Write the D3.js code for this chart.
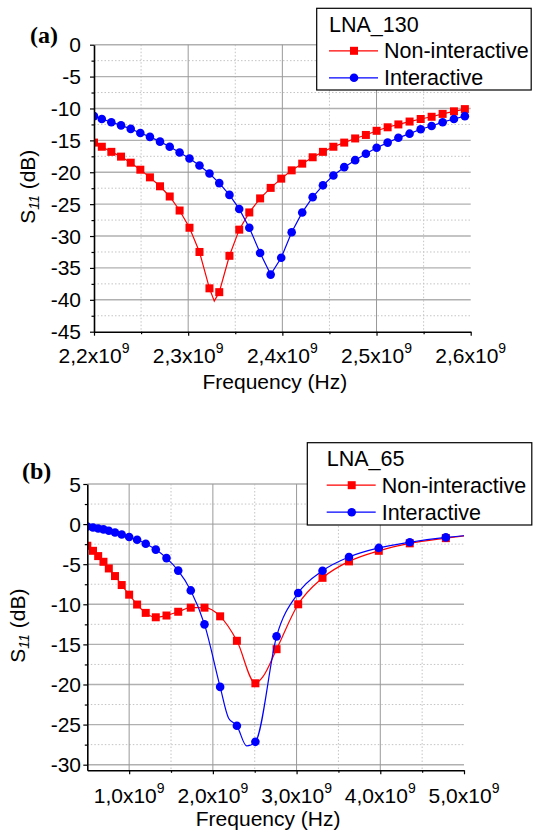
<!DOCTYPE html>
<html>
<head>
<meta charset="utf-8">
<script src="https://cdn.jsdelivr.net/npm/d3@7"></script>
<style>
  body { margin: 0; background: #fff; }
  svg { display: block; }
  text { font-family: Arial, "Liberation Sans", sans-serif; fill: #000; }
</style>
</head>
<body>
<svg id="chart" width="533" height="832"></svg>
<script>
// ---- datos ----
// (a) LNA_130, frecuencia en GHz (x10^9 Hz)
const topFreqGHz = [2.2000, 2.2083, 2.2184, 2.2287, 2.2390, 2.2492, 2.2594, 2.2701, 2.2804, 2.2909,
  2.3014, 2.3120, 2.3226, 2.3330, 2.3438, 2.3542, 2.3649, 2.3764, 2.3876, 2.3988,
  2.4099, 2.4211, 2.4322, 2.4431, 2.4542, 2.4657, 2.4773, 2.4887, 2.5001, 2.5118,
  2.5232, 2.5351, 2.5469, 2.5585, 2.5702, 2.5822, 2.5938];
const topRedDb = [-15.35, -16.0, -16.8, -17.55, -18.5, -19.6, -20.8, -22.2, -23.8, -26.0,
  -28.7, -32.5, -38.2, -38.8, -33.1, -29.0, -26.3, -24.1, -22.45, -21.0,
  -19.7, -18.65, -17.65, -16.8, -16.0, -15.35, -14.7, -14.15, -13.5, -12.95,
  -12.5, -12.05, -11.65, -11.3, -10.85, -10.45, -10.1];
const topBlueDb = [-11.2, -11.65, -12.15, -12.65, -13.2, -13.85, -14.45, -15.2, -16.0, -16.9,
  -17.85, -18.95, -20.2, -21.7, -23.55, -25.75, -28.7, -32.65, -36.05, -33.4,
  -29.4, -26.3, -23.9, -22.05, -20.5, -19.2, -18.1, -17.1, -16.15, -15.35,
  -14.6, -13.95, -13.25, -12.75, -12.15, -11.65, -11.2];
// puntos de la curva sin marcador
const topRedLineFreq = [2.3277];
const topRedLineDb = [-40.2];
const topBlueLineFreq = [];
const topBlueLineDb = [];

// (b) LNA_65
const botFreqGHz = [0.500, 0.568, 0.630, 0.693, 0.757, 0.831, 0.911, 1.000, 1.095, 1.198,
  1.318, 1.446, 1.586, 1.736, 1.900, 2.087, 2.287, 2.508, 2.761, 3.019,
  3.310, 3.626, 3.982, 4.352, 4.783];
const botRedDb = [-2.7, -3.33, -3.99, -4.7, -5.53, -6.48, -7.6, -8.8, -10.03, -11.07,
  -11.62, -11.4, -10.93, -10.42, -10.42, -11.5, -14.55, -19.85, -15.6, -10.0,
  -6.7, -4.65, -3.33, -2.4, -1.75];
const botBlueDb = [-0.3, -0.42, -0.54, -0.66, -0.83, -1.04, -1.3, -1.6, -1.95, -2.45,
  -3.18, -4.24, -5.8, -8.27, -12.5, -20.3, -25.15, -27.15, -14.0, -8.6,
  -5.82, -4.1, -2.97, -2.26, -1.66];
const botRedLineFreq = [2.60, 5.0];
const botRedLineDb = [-19.0, -1.47];
const botBlueLineFreq = [2.188, 2.403, 5.0];
const botBlueLineDb = [-24.2, -27.65, -1.45];

// ticks
const topXMajor = [2.2, 2.3, 2.4, 2.5, 2.6];
const topXMinor = [2.25, 2.35, 2.45, 2.55];
const topYMajor = [0, -5, -10, -15, -20, -25, -30, -35, -40, -45];
const topYMinor = [-2.5, -7.5, -12.5, -17.5, -22.5, -27.5, -32.5, -37.5, -42.5];
const botXMajor = [1, 2, 3, 4, 5];
const botXMinor = [1.5, 2.5, 3.5, 4.5];
const botYMajor = [5, 0, -5, -10, -15, -20, -25, -30];
const botYMinor = [2.5, -2.5, -7.5, -12.5, -17.5, -22.5, -27.5];

const RED = "#ff0000", BLUE = "#0000ff";
const svg = d3.select("#chart");

function pairs(xs, ys) { return xs.map((v, i) => [v, ys[i]]); }

function drawPanel(p) {
  const g = svg.append("g");
  const x = d3.scaleLinear().domain(p.xDomain).range([p.left, p.right]);
  const y = d3.scaleLinear().domain(p.yDomain).range([p.bottom, p.top]);

  // rejilla menor (punteada)
  g.append("g").selectAll("line").data(p.yMinor).join("line")
    .attr("x1", p.left).attr("x2", p.right)
    .attr("y1", d => y(d)).attr("y2", d => y(d))
    .attr("stroke", "#c4c4c4").attr("stroke-width", 1).attr("stroke-dasharray", "1.5,2");
  g.append("g").selectAll("line").data(p.xMinor).join("line")
    .attr("x1", d => x(d)).attr("x2", d => x(d))
    .attr("y1", p.top).attr("y2", p.bottom)
    .attr("stroke", "#c4c4c4").attr("stroke-width", 1).attr("stroke-dasharray", "1.5,2");

  // rejilla mayor
  g.append("g").selectAll("line").data(p.yGrid).join("line")
    .attr("x1", p.left).attr("x2", p.right)
    .attr("y1", d => y(d)).attr("y2", d => y(d))
    .attr("stroke", "#b0b0b0").attr("stroke-width", 1.4);
  g.append("g").selectAll("line").data(p.xGrid).join("line")
    .attr("x1", d => x(d)).attr("x2", d => x(d))
    .attr("y1", p.top).attr("y2", p.bottom)
    .attr("stroke", "#999").attr("stroke-width", 1);

  // curvas y marcadores
  const clipId = "clip" + p.id;
  g.append("clipPath").attr("id", clipId).append("rect")
    .attr("x", p.left).attr("y", p.top - 10)
    .attr("width", p.right - p.left + 10).attr("height", p.bottom - p.top + 10);

  const line = d3.line().x(d => x(d[0])).y(d => y(d[1])).curve(p.curve);
  const plot = g.append("g").attr("clip-path", `url(#${clipId})`);

  p.series.forEach(s => {
    const pts = pairs(p.freq, s.db);
    const linePts = pts.concat(pairs(s.lineFreq, s.lineDb)).sort((a, b) => a[0] - b[0]);
    plot.append("path").datum(linePts)
      .attr("d", line).attr("fill", "none")
      .attr("stroke", s.color).attr("stroke-width", 1.2);
    if (s.shape === "square") {
      plot.append("g").selectAll("rect").data(pts).join("rect")
        .attr("x", d => x(d[0]) - 4).attr("y", d => y(d[1]) - 4)
        .attr("width", 8).attr("height", 8).attr("fill", s.color);
    } else {
      plot.append("g").selectAll("circle").data(pts).join("circle")
        .attr("cx", d => x(d[0])).attr("cy", d => y(d[1]))
        .attr("r", 4.3).attr("fill", s.color);
    }
  });

  // ejes
  g.append("g").attr("transform", `translate(0,${p.bottom})`)
    .call(d3.axisBottom(x).tickValues(p.xMajor).tickSize(4).tickSizeOuter(0).tickFormat(""));
  g.append("g").attr("transform", `translate(0,${p.bottom})`)
    .call(d3.axisBottom(x).tickValues(p.xMinor).tickSize(2.5).tickFormat(""))
    .call(a => a.select(".domain").remove());
  g.append("g").attr("transform", `translate(${p.left},0)`)
    .call(d3.axisLeft(y).tickValues(p.yMajor).tickSize(4).tickSizeOuter(0).tickFormat(""));
  g.append("g").attr("transform", `translate(${p.left},0)`)
    .call(d3.axisLeft(y).tickValues(p.yMinor).tickSize(2.5).tickFormat(""))
    .call(a => a.select(".domain").remove());
  g.selectAll(".domain").attr("stroke", "#000").attr("stroke-width", 1.6);
  g.selectAll(".tick line").attr("stroke", "#000").attr("stroke-width", 1.2);

  // etiquetas eje y
  g.append("g").selectAll("text").data(p.yMajor).join("text")
    .attr("x", p.yLabelX).attr("y", d => y(d) + 7.5)
    .attr("text-anchor", "end").attr("font-size", 21)
    .text(d => String(d));

  // etiquetas eje x con exponente
  const xl = g.append("g").selectAll("text").data(p.xMajor).join("text")
    .attr("x", d => x(d)).attr("y", p.xLabelY)
    .attr("text-anchor", "middle").attr("font-size", 21);
  xl.append("tspan").text(d => d.toFixed(1).replace(".", ",") + "x10");
  xl.append("tspan").attr("font-size", 14).attr("dy", -10).text("9");

  // títulos
  g.append("text").attr("x", (p.left + p.right) / 2 - 7.5).attr("y", p.xTitleY)
    .attr("text-anchor", "middle").attr("font-size", 21).text("Frequency (Hz)");
  const yt = g.append("text")
    .attr("transform", `translate(${p.yTitleX},${(p.top + p.bottom) / 2 - 1.5}) rotate(-90)`)
    .attr("text-anchor", "middle").attr("font-size", 21);
  yt.append("tspan").text("S");
  yt.append("tspan").attr("font-size", 14).attr("font-style", "italic").attr("dy", 4).text("11");
  yt.append("tspan").attr("dy", -4).text(" (dB)");

  g.append("text").attr("x", p.tagX).attr("y", p.tagY)
    .style("font-family", "'Liberation Serif', 'Times New Roman', serif")
    .attr("font-weight", "bold").attr("font-size", 24).text(p.tag);

  // leyenda
  const L = p.legend;
  const lg = svg.append("g");
  lg.append("rect").attr("x", L.x).attr("y", L.y).attr("width", L.w).attr("height", L.h)
    .attr("fill", "#fff").attr("stroke", "#000").attr("stroke-width", 1.2);
  lg.append("text").attr("x", L.x + L.pad).attr("y", L.y + 23.5).attr("font-size", 21.5).text(L.title);
  p.series.forEach((s, i) => {
    const cy = L.y + 42.5 + i * 27;
    lg.append("line").attr("x1", L.x + L.pad).attr("x2", L.x + L.pad + 49)
      .attr("y1", cy).attr("y2", cy).attr("stroke", s.color).attr("stroke-width", 1.2);
    if (s.shape === "square") {
      lg.append("rect").attr("x", L.x + L.pad + 25 - 4).attr("y", cy - 4).attr("width", 8).attr("height", 8).attr("fill", s.color);
    } else {
      lg.append("circle").attr("cx", L.x + L.pad + 25).attr("cy", cy).attr("r", 4.3).attr("fill", s.color);
    }
    lg.append("text").attr("x", L.x + L.pad + 55).attr("y", cy + 7.5).attr("font-size", 21.5).text(s.name);
  });
}

drawPanel({
  id: "a", tag: "(a)", tagX: 30, tagY: 43,
  left: 94, right: 470.7, top: 44.7, bottom: 331.7,
  xDomain: [2.2, 2.6], yDomain: [-45, 0],
  xMajor: topXMajor, xMinor: topXMinor, yMajor: topYMajor, yMinor: topYMinor,
  xGrid: [2.3, 2.4, 2.5], yGrid: topYMajor.filter(d => d > -45),
  yLabelX: 81, xLabelY: 363, xTitleY: 389, yTitleX: 35,
  curve: d3.curveLinear,
  freq: topFreqGHz,
  series: [
    { name: "Non-interactive", color: RED, shape: "square", db: topRedDb, lineFreq: topRedLineFreq, lineDb: topRedLineDb },
    { name: "Interactive", color: BLUE, shape: "circle", db: topBlueDb, lineFreq: topBlueLineFreq, lineDb: topBlueLineDb }
  ],
  legend: { x: 316.7, y: 8.3, w: 214.5, h: 81.7, pad: 12.3, title: "LNA_130" }
});

drawPanel({
  id: "b", tag: "(b)", tagX: 22, tagY: 479,
  left: 87.3, right: 464, top: 484, bottom: 770.3,
  xDomain: [0.5, 5], yDomain: [-30.7, 5],
  xMajor: botXMajor, xMinor: botXMinor, yMajor: botYMajor, yMinor: botYMinor,
  xGrid: [1, 2, 3, 4], yGrid: botYMajor,
  yLabelX: 81, xLabelY: 803, xTitleY: 826, yTitleX: 25,
  curve: d3.curveMonotoneX,
  freq: botFreqGHz,
  series: [
    { name: "Non-interactive", color: RED, shape: "square", db: botRedDb, lineFreq: botRedLineFreq, lineDb: botRedLineDb },
    { name: "Interactive", color: BLUE, shape: "circle", db: botBlueDb, lineFreq: botBlueLineFreq, lineDb: botBlueLineDb }
  ],
  legend: { x: 307.3, y: 442.7, w: 224.5, h: 82.3, pad: 19.4, title: "LNA_65" }
});
</script>
</body>
</html>
